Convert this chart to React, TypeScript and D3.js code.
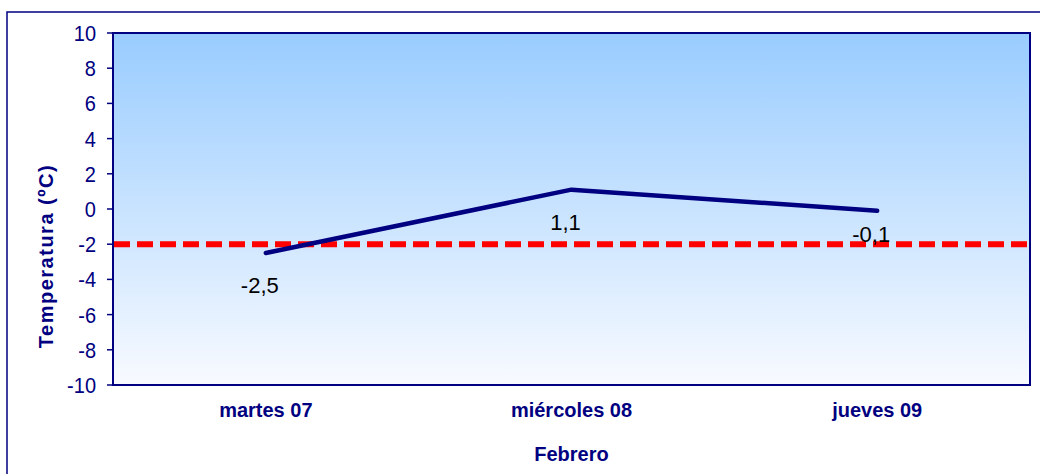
import React from "react";
import * as d3 from "d3";

const categories = ["martes 07", "miércoles 08", "jueves 09"];
const temperatures = [-2.5, 1.1, -0.1];
const valueLabels = ["-2,5", "1,1", "-0,1"];
const labelOffsets = [40, 40, 31];
const thresholdValue = -2;
const yTicks = [10, 8, 6, 4, 2, 0, -2, -4, -6, -8, -10];

const W = 1040;
const H = 474;
const plot = { left: 113, top: 33, right: 1030, bottom: 385 };
const navy = "#000080";

export default function App() {
  const x = d3
    .scaleBand<string>()
    .domain(categories)
    .range([plot.left, plot.right])
    .paddingInner(0)
    .paddingOuter(0);
  const y = d3.scaleLinear().domain([-10, 10]).range([plot.bottom, plot.top]);
  const cx = (c: string) => (x(c) as number) + x.bandwidth() / 2;

  const line = d3
    .line<number>()
    .x((_, i) => cx(categories[i]))
    .y((d) => y(d));

  return (
    <svg
      width={W}
      height={H}
      style={{ position: "absolute", left: 0, top: 0, fontFamily: "Arial, 'Liberation Sans', sans-serif" }}
    >
      <defs>
        <linearGradient id="bg" x1="0" y1="0" x2="0" y2="1">
          <stop offset="0%" stopColor="#99CCFF" />
          <stop offset="100%" stopColor="#F8FAFF" />
        </linearGradient>
      </defs>
      <rect x={0} y={0} width={W} height={H} fill="#fff" />
      <rect x={7} y={12} width={W + 10} height={H} fill="none" stroke={navy} strokeWidth={1.5} />
      <rect
        x={plot.left}
        y={plot.top}
        width={plot.right - plot.left}
        height={plot.bottom - plot.top}
        fill="url(#bg)"
        stroke={navy}
        strokeWidth={2}
      />
      {yTicks.map((t) => (
        <g key={t}>
          <line x1={plot.left - 6} x2={plot.left} y1={y(t)} y2={y(t)} stroke={navy} strokeWidth={1.5} />
          <text
            transform={`translate(${plot.left - 17},${y(t)}) scale(1,1.12)`}
            dy="0.36em"
            textAnchor="end"
            fontSize={20}
            fill={navy}
          >
            {t}
          </text>
        </g>
      ))}
      <line
        x1={plot.left + 1}
        x2={plot.right - 1}
        y1={y(thresholdValue)}
        y2={y(thresholdValue)}
        stroke="#FF0000"
        strokeWidth={6}
        strokeDasharray="16,7"
      />
      <path d={line(temperatures) || ""} fill="none" stroke={navy} strokeWidth={4.5} strokeLinecap="round" strokeLinejoin="round" />
      {temperatures.map((v, i) => (
        <text
          key={i}
          x={cx(categories[i]) - 6}
          y={y(v) + labelOffsets[i]}
          textAnchor="middle"
          fontSize={22}
          fill="#000"
        >
          {valueLabels[i]}
        </text>
      ))}
      {categories.map((c) => (
        <text key={c} x={cx(c)} y={417} textAnchor="middle" fontSize={20} fontWeight="bold" fill={navy}>
          {c}
        </text>
      ))}
      <text x={cx(categories[1])} y={461} textAnchor="middle" fontSize={20} fontWeight="bold" fill={navy}>
        Febrero
      </text>
      <text
        transform={`translate(53,256) rotate(-90)`}
        textAnchor="middle"
        fontSize={20}
        fontWeight="bold"
        letterSpacing={1.5}
        fill={navy}
      >
        Temperatura (ºC)
      </text>
    </svg>
  );
}
